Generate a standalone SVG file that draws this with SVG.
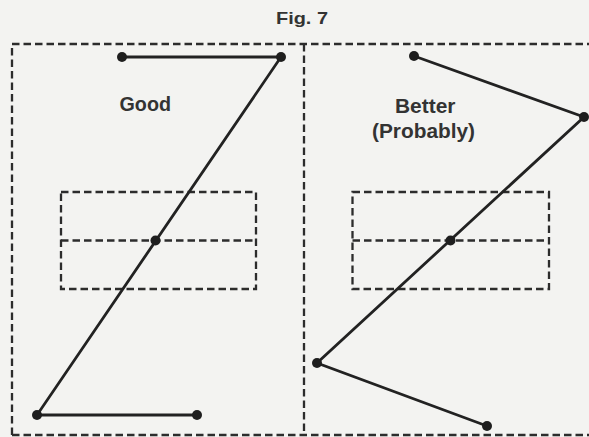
<svg xmlns="http://www.w3.org/2000/svg" width="589" height="437" viewBox="0 0 589 437">
<style>
.dash{fill:none;stroke:#2c2c2c;stroke-width:2.3;stroke-dasharray:7.5 4}
.conn{fill:none;stroke:#222;stroke-width:2.8;stroke-linejoin:miter}
.dot{fill:#1e1e1e}
.lbl{font-family:"Liberation Sans",Arial,sans-serif;font-weight:bold;fill:#333}
</style>
<rect width="589" height="437" fill="#f3f3f1"/>
<g id="frame">
<path class="dash" d="M12 435 V44 H589"/>
<path class="dash" d="M12 435 H589"/>
<path class="dash" d="M304 44 V435"/>
</g>
<g id="title"><text class="lbl" x="276" y="24" font-size="17" textLength="52" lengthAdjust="spacingAndGlyphs">Fig. 7</text></g>
<g id="label-good"><text class="lbl" x="119.5" y="111" font-size="19.5" textLength="51.5" lengthAdjust="spacingAndGlyphs">Good</text></g>
<g id="label-better">
<text class="lbl" x="395" y="112.5" font-size="19.5" textLength="60.5" lengthAdjust="spacingAndGlyphs">Better</text>
<text class="lbl" x="372" y="138" font-size="19.5" textLength="103" lengthAdjust="spacingAndGlyphs">(Probably)</text>
</g>
<g id="box-left">
<rect class="dash" x="61" y="192" width="195" height="97"/>
<path class="dash" d="M61 240.5 H256"/>
</g>
<g id="box-right">
<rect class="dash" x="352.5" y="192" width="196.5" height="97"/>
<path class="dash" d="M352.5 240.5 H549"/>
</g>
<g id="connectors">
<polyline class="conn" points="122,57 281,57 37,415 197,415"/>
<polyline class="conn" points="414,56 584,117 317,363 487,426"/>
</g>
<g id="good-p1"><circle class="dot" cx="122" cy="57" r="5"/></g>
<g id="good-p2"><circle class="dot" cx="281" cy="57" r="5"/></g>
<g id="good-mid"><circle class="dot" cx="155.5" cy="240.5" r="5"/></g>
<g id="good-p3"><circle class="dot" cx="37" cy="415" r="5"/></g>
<g id="good-p4"><circle class="dot" cx="197" cy="415" r="5"/></g>
<g id="better-p1"><circle class="dot" cx="414" cy="56" r="5"/></g>
<g id="better-p2"><circle class="dot" cx="584" cy="117" r="5"/></g>
<g id="better-mid"><circle class="dot" cx="450.5" cy="240.5" r="5"/></g>
<g id="better-p3"><circle class="dot" cx="317" cy="363" r="5"/></g>
<g id="better-p4"><circle class="dot" cx="487" cy="426" r="5"/></g>
</svg>
